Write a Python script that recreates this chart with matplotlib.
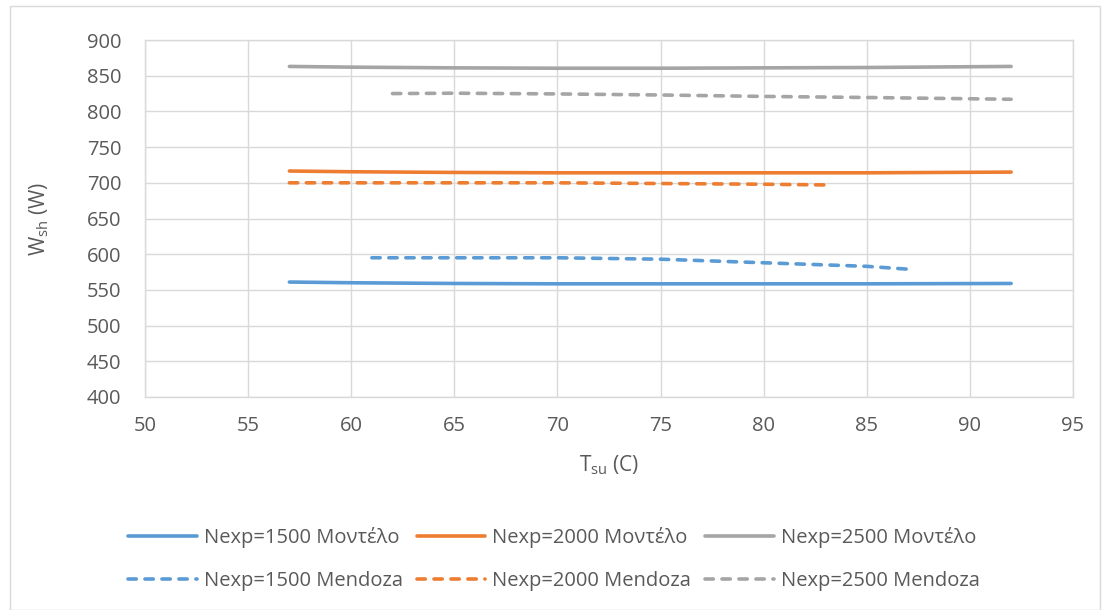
import matplotlib.pyplot as plt
from matplotlib.patches import Rectangle

plt.rcParams["font.family"] = ["Open Sans", "DejaVu Sans"]

# -----------------------------
# Data
# -----------------------------
t_model = [57, 60, 65, 70, 75, 80, 85, 92]
w_model_1500 = [561, 560, 559, 558.5, 558.5, 558.5, 558.5, 559]
w_model_2000 = [716.5, 715.5, 714.5, 714, 714, 714, 714, 715]
w_model_2500 = [863, 862, 861, 860.5, 860.5, 861, 861.5, 863]

t_mend_1500 = [61, 65, 70, 75, 80, 85, 87]
w_mend_1500 = [595, 595, 595, 593, 588, 583, 579]

t_mend_2000 = [57, 60, 65, 70, 75, 80, 83]
w_mend_2000 = [700, 700, 700, 700, 699, 698, 697]

t_mend_2500 = [62, 65, 70, 75, 80, 85, 92]
w_mend_2500 = [825, 825.5, 824.5, 823, 821, 819.5, 817]

BLUE = "#5B9BD5"
ORANGE = "#ED7D31"
GRAY = "#A5A5A5"
TEXT = "#595959"
GRID = "#D9D9D9"

# -----------------------------
# Figure
# -----------------------------
fig = plt.figure(figsize=(11.08, 6.10), dpi=100)
ax = fig.add_axes([0.1309, 0.3492, 0.8375, 0.5852])

fig.patches.append(
    Rectangle((0.009, 0.0), 0.984, 0.99, transform=fig.transFigure,
              fill=False, edgecolor=GRID, linewidth=1.0)
)

lw = 2.6
dash = (2.3, 2.4)

h1, = ax.plot(t_model, w_model_1500, color=BLUE, lw=lw,
              solid_capstyle="round", label="Nexp=1500 Μοντέλο")
h2, = ax.plot(t_model, w_model_2000, color=ORANGE, lw=lw,
              solid_capstyle="round", label="Nexp=2000 Μοντέλο")
h3, = ax.plot(t_model, w_model_2500, color=GRAY, lw=lw,
              solid_capstyle="round", label="Nexp=2500 Μοντέλο")
h4, = ax.plot(t_mend_1500, w_mend_1500, color=BLUE, lw=lw, dashes=dash,
              dash_capstyle="round", label="Nexp=1500 Mendoza")
h5, = ax.plot(t_mend_2000, w_mend_2000, color=ORANGE, lw=lw, dashes=dash,
              dash_capstyle="round", label="Nexp=2000 Mendoza")
h6, = ax.plot(t_mend_2500, w_mend_2500, color=GRAY, lw=lw, dashes=dash,
              dash_capstyle="round", label="Nexp=2500 Mendoza")

ax.set_xlim(50, 95)
ax.set_ylim(400, 900)
ax.set_xticks(range(50, 96, 5))
ax.set_yticks(range(400, 901, 50))

ax.grid(True, color=GRID, linewidth=1.0)
ax.set_axisbelow(True)
for s in ax.spines.values():
    s.set_color(GRID)
    s.set_linewidth(1.0)

ax.tick_params(length=0, labelsize=14.5, colors=TEXT)
ax.tick_params(axis="x", pad=14)
ax.tick_params(axis="y", pad=17)

ax.set_xlabel(r"T$_{\mathregular{su}}$ (C)", fontsize=15, color=TEXT, labelpad=12)
ax.set_ylabel(r"W$_{\mathregular{sh}}$ (W)", fontsize=15, color=TEXT, labelpad=26)

fig.legend(
    [h1, h4, h2, h5, h3, h6],
    [h.get_label() for h in [h1, h4, h2, h5, h3, h6]],
    ncol=3, loc="center", bbox_to_anchor=(0.5, 0.084),
    frameon=False, fontsize=14.5, labelcolor=TEXT,
    handlelength=3.4, handletextpad=0.35, columnspacing=0.7,
    labelspacing=1.15,
)

fig.savefig("out.png", dpi=100)
